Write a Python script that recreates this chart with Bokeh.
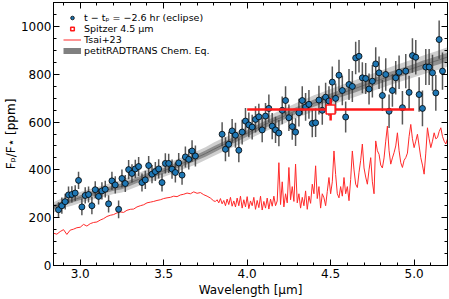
from bokeh.plotting import figure
from bokeh.models import (Range1d, LinearAxis, SingleIntervalTicker, NumeralTickFormatter,
                          CustomJSTickFormatter, Legend, LegendItem, ColumnDataSource)
from bokeh.embed import file_html
from bokeh.resources import INLINE

# ---------------- data ----------------
obs_wl = [2.87, 2.89, 2.91, 2.93, 2.95, 2.97, 2.99, 3.01, 3.03, 3.05, 3.07, 3.09, 3.11, 3.13,
          3.15, 3.17, 3.19, 3.21, 3.23, 3.25, 3.27, 3.29, 3.31, 3.33, 3.35, 3.37, 3.39, 3.41,
          3.43, 3.45, 3.47, 3.49, 3.51, 3.53, 3.55, 3.57, 3.59, 3.61, 3.63, 3.65, 3.67, 3.69,
          3.85, 3.87, 3.89, 3.91, 3.93, 3.95, 3.97, 3.99, 4.01, 4.03, 4.05, 4.07, 4.09, 4.11,
          4.13, 4.15, 4.17, 4.19, 4.21, 4.23, 4.25, 4.27, 4.29, 4.31, 4.33, 4.35, 4.37, 4.39,
          4.41, 4.43,
          4.45, 4.47, 4.49, 4.51, 4.53, 4.55, 4.57, 4.59, 4.61, 4.63, 4.65, 4.67, 4.69, 4.71,
          4.73, 4.75, 4.77, 4.79, 4.81, 4.83, 4.85, 4.87, 4.89, 4.91, 4.93, 4.95, 4.97, 4.99,
          5.01, 5.03, 5.05, 5.07, 5.09, 5.11, 5.13, 5.15, 5.17]
obs_fp = [233, 250, 267, 295, 297, 303, 356, 245, 293, 297, 250, 317, 289, 312,
          319, 258, 354, 337, 235, 364, 343, 401, 385, 404, 414, 347, 358, 418,
          382, 393, 404, 347, 427, 427, 403, 389, 429, 378, 454, 444, 479, 458,
          549, 486, 507, 563, 545, 482, 558, 604, 588, 579, 611, 622, 567, 625,
          657, 583, 567, 554, 649, 690, 618, 581, 558, 639, 690, 663, 674, 594,
          597, 692,
          649, 704, 688, 767, 699, 796, 732, 621, 757, 749, 868, 875, 785, 782,
          738, 771, 843, 806, 711, 799, 645, 732, 785, 808, 660, 813, 724, 878,
          871, 715, 657, 830, 830, 806, 722, 945, 813]
obs_err = [32, 34, 33, 35, 34, 33, 36, 35, 34, 33, 36, 35, 34, 36,
           35, 36, 38, 36, 37, 38, 36, 40, 38, 38, 40, 38, 38, 40,
           38, 40, 40, 38, 42, 40, 40, 42, 42, 40, 44, 42, 45, 44,
           50, 50, 52, 50, 52, 50, 52, 55, 52, 52, 55, 55, 52, 55,
           58, 55, 55, 55, 58, 60, 55, 55, 58, 58, 60, 58, 60, 58,
           60, 60,
           60, 60, 62, 65, 62, 65, 62, 65, 65, 65, 68, 68, 65, 65,
           65, 68, 70, 68, 65, 68, 70, 68, 70, 70, 70, 72, 70, 72,
           72, 72, 75, 75, 75, 75, 75, 80, 78]

spitzer_wl = [4.5]
spitzer_fp = [652]
spitzer_err = [46]
spitzer_halfwidth = [0.5]

model_wl = [2.84, 2.90, 2.95, 3.00, 3.05, 3.10, 3.15, 3.20, 3.25, 3.30, 3.35, 3.40, 3.45, 3.50,
            3.55, 3.60, 3.65, 3.70, 3.75, 3.80, 3.85, 3.90, 3.95, 4.00, 4.05, 4.10, 4.15, 4.20,
            4.25, 4.30, 4.35, 4.40, 4.45, 4.50, 4.55, 4.60, 4.65, 4.70, 4.75, 4.80, 4.85, 4.90,
            4.95, 5.00, 5.05, 5.10, 5.15, 5.20]
model_med = [243, 262, 272, 284, 296, 303, 314, 324, 331, 346, 360, 374, 384, 396,
             410, 424, 438, 452, 468, 486, 503, 518, 535, 553, 571, 588, 603, 618,
             634, 650, 664, 679, 692, 704, 717, 729, 741, 754, 766, 778, 791, 803,
             814, 826, 838, 849, 860, 872]
model_1sig = [10, 10, 10, 10, 11, 11, 11, 11, 12, 12, 12, 12, 12, 12,
              12, 12, 12, 12, 13, 13, 13, 13, 13, 13, 14, 14, 14, 14,
              14, 14, 15, 15, 15, 15, 15, 16, 16, 16, 16, 16, 17, 17,
              17, 17, 18, 18, 18, 18]
model_2sig = [22, 22, 22, 23, 23, 24, 24, 25, 26, 27, 27, 27, 26, 26,
              26, 26, 27, 27, 27, 28, 28, 28, 29, 29, 29, 30, 30, 31,
              31, 32, 32, 33, 33, 34, 34, 35, 35, 36, 36, 37, 37, 38,
              38, 39, 39, 40, 40, 41]

tsai_wl_a = [2.84, 2.86, 2.88, 2.90, 2.92, 2.94, 2.96, 2.98, 3.00, 3.02, 3.04, 3.06, 3.08, 3.10,
             3.12, 3.14, 3.16, 3.18, 3.20, 3.22, 3.24, 3.26, 3.28, 3.30, 3.32, 3.34, 3.36, 3.38,
             3.40, 3.42, 3.44, 3.46, 3.48, 3.50, 3.52, 3.54, 3.56, 3.58, 3.60, 3.62, 3.64, 3.66,
             3.68, 3.70, 3.72, 3.74, 3.76, 3.78, 3.80]
tsai_fp_a = [135, 131, 142, 150, 130, 148, 152, 158, 160, 172, 165, 175, 180, 182,
             190, 196, 205, 210, 213, 220, 224, 222, 231, 235, 236, 245, 250, 254,
             262, 265, 268, 272, 275, 280, 283, 285, 290, 288, 295, 298, 303, 300,
             308, 302, 305, 296, 290, 282, 270]
tsai_wl_b = [3.81, 3.82, 3.83, 3.84, 3.85, 3.86, 3.87, 3.88, 3.89, 3.90, 3.91, 3.92, 3.93,
             3.94, 3.95, 3.96, 3.97, 3.98, 3.99, 4.00, 4.01, 4.02, 4.03, 4.04, 4.05, 4.06,
             4.07, 4.08, 4.09, 4.10, 4.11, 4.12, 4.13, 4.14, 4.15, 4.16, 4.17]
tsai_fp_b = [268, 275, 262, 280, 258, 272, 250, 278, 255, 285, 248, 270, 245,
             282, 250, 290, 240, 275, 245, 288, 238, 270, 250, 285, 235, 272,
             242, 290, 232, 268, 240, 282, 236, 278, 248, 290, 250]
tsai_wl_c = [4.18, 4.19, 4.20, 4.21, 4.22, 4.23, 4.24, 4.25, 4.26, 4.27, 4.28, 4.29, 4.30,
             4.31, 4.32, 4.33, 4.34, 4.35, 4.36, 4.37, 4.38, 4.39, 4.40, 4.41, 4.42, 4.43,
             4.44, 4.45, 4.46, 4.47, 4.48, 4.49, 4.50, 4.51, 4.52, 4.53, 4.54, 4.55, 4.56,
             4.57, 4.58, 4.59, 4.60, 4.61, 4.62, 4.63, 4.64, 4.65, 4.66, 4.67, 4.68, 4.69,
             4.70, 4.71, 4.72, 4.73, 4.74, 4.75, 4.76, 4.77, 4.78, 4.79, 4.80, 4.81, 4.82,
             4.83, 4.84, 4.85, 4.86, 4.87, 4.88, 4.89, 4.90, 4.91, 4.92, 4.93, 4.94, 4.95,
             4.96, 4.97, 4.98, 4.99, 5.00, 5.01, 5.02, 5.03, 5.04, 5.05, 5.06, 5.07, 5.08,
             5.09, 5.10, 5.11, 5.12, 5.13, 5.14, 5.15, 5.16, 5.17, 5.18, 5.19, 5.20]
tsai_fp_c = [270, 430, 255, 350, 245, 300, 262, 410, 275, 330, 268, 424, 262,
             300, 240, 285, 250, 312, 235, 290, 260, 340, 300, 417, 280, 330,
             240, 300, 283, 250, 310, 368, 300, 350, 479, 380, 300, 283, 330,
             290, 368, 300, 330, 271, 360, 479, 400, 340, 326, 390, 440, 508,
             408, 370, 340, 400, 451, 350, 300, 521, 480, 465, 420, 408, 450,
             520, 583, 480, 424, 450, 472, 500, 555, 480, 430, 410, 440, 451,
             470, 540, 590, 530, 493, 520, 549, 500, 451, 420, 382, 470, 576,
             530, 493, 520, 555, 530, 535, 560, 576, 540, 520, 508, 530]

labels = ["t − tₚ = −2.6 hr (eclipse)", "Spitzer 4.5 μm", "Tsai+23", "petitRADTRANS Chem. Eq."]

# ---------------- derived sources ----------------
obs_src = ColumnDataSource(dict(x=obs_wl, y=obs_fp,
                                lo=[v - e for v, e in zip(obs_fp, obs_err)],
                                hi=[v + e for v, e in zip(obs_fp, obs_err)]))
mod_src = ColumnDataSource(dict(x=model_wl, y=model_med,
                                l1=[m - s for m, s in zip(model_med, model_1sig)],
                                h1=[m + s for m, s in zip(model_med, model_1sig)],
                                l2=[m - s for m, s in zip(model_med, model_2sig)],
                                h2=[m + s for m, s in zip(model_med, model_2sig)]))
tsai_src = ColumnDataSource(dict(x=tsai_wl_a + tsai_wl_b + tsai_wl_c,
                                 y=tsai_fp_a + tsai_fp_b + tsai_fp_c))
sp_src = ColumnDataSource(dict(x=spitzer_wl, y=spitzer_fp,
                               x0=[w - h for w, h in zip(spitzer_wl, spitzer_halfwidth)],
                               x1=[w + h for w, h in zip(spitzer_wl, spitzer_halfwidth)],
                               lo=[v - e for v, e in zip(spitzer_fp, spitzer_err)],
                               hi=[v + e for v, e in zip(spitzer_fp, spitzer_err)]))

FONT = "DejaVu Sans"

p = figure(width=449, height=299, output_backend="svg", toolbar_location=None, title=None,
           x_range=Range1d(2.84, 5.2), y_range=Range1d(0, 1100),
           min_border_left=0, min_border_right=2, min_border_top=2, min_border_bottom=0,
           min_border=0,
           x_axis_label="Wavelength [μm]", y_axis_label="Fₚ/F⋆ [ppm]")
p.xgrid.visible = False
p.ygrid.visible = False
p.outline_line_color = "black"
p.outline_line_width = 1
p.background_fill_color = "white"
p.border_fill_color = "white"

xt = SingleIntervalTicker(interval=0.5, num_minor_ticks=5)
yt = SingleIntervalTicker(interval=200, num_minor_ticks=4)
p.xaxis.ticker = xt
p.yaxis.ticker = yt
p.xaxis.formatter = NumeralTickFormatter(format="0.0")
p.yaxis.formatter = NumeralTickFormatter(format="0")


def style(ax):
    ax.major_tick_in = 6
    ax.major_tick_out = 0
    ax.minor_tick_in = 3
    ax.minor_tick_out = 0
    ax.axis_line_color = "black"
    ax.major_tick_line_color = "black"
    ax.minor_tick_line_color = "black"
    ax.major_label_text_font = FONT
    ax.major_label_text_font_size = "12px"
    ax.major_label_text_color = "black"
    ax.axis_label_text_font = FONT
    ax.axis_label_text_font_size = "12px"
    ax.axis_label_text_font_style = "normal"
    ax.axis_label_text_color = "black"


for ax in p.xaxis + p.yaxis:
    style(ax)
p.xaxis.major_label_standoff = 3
p.xaxis.axis_label_standoff = 2
p.yaxis.major_label_standoff = 2
p.yaxis.axis_label_standoff = 0

blank = CustomJSTickFormatter(code="return ''")
top = LinearAxis(ticker=xt, formatter=blank)
right = LinearAxis(ticker=yt, formatter=blank)
for ax in (top, right):
    style(ax)
    ax.major_label_standoff = 0
    ax.axis_label_standoff = 0
p.add_layout(top, "above")
p.add_layout(right, "right")

# model band (a wide grey line sits underneath, only visible as the legend swatch)
prt_proxy = p.line(x="x", y="y", source=mod_src, line_color="#808080", line_width=6)
p.varea(x="x", y1="l2", y2="h2", source=mod_src, fill_color="#cfcfcf", fill_alpha=1)
p.varea(x="x", y1="l1", y2="h1", source=mod_src, fill_color="#8f8f8f", fill_alpha=1)
p.line(x="x", y="y", source=mod_src, line_color="#6a6a6a", line_width=1)

# Tsai+23
tsai_r = p.line(x="x", y="y", source=tsai_src, line_color="#ff2a2a", line_width=1)

# observations
p.segment(x0="x", y0="lo", x1="x", y1="hi", source=obs_src, line_color="#3a3a3a",
          line_width=1.5, line_alpha=0.85)
pts = p.scatter(x="x", y="y", source=obs_src, size=6, marker="circle",
                fill_color="#1f77b4", line_color="black", line_width=0.8)

# Spitzer
p.segment(x0="x0", y0="y", x1="x1", y1="y", source=sp_src, line_color="#ff1a1a", line_width=2.5)
p.segment(x0="x", y0="lo", x1="x", y1="hi", source=sp_src, line_color="#ff1a1a", line_width=2.5)
sq = p.scatter(x="x", y="y", source=sp_src, marker="square", size=9,
               fill_color="white", line_color="#ff1a1a", line_width=1.5)

legend = Legend(items=[LegendItem(label=labels[0], renderers=[pts]),
                       LegendItem(label=labels[1], renderers=[sq]),
                       LegendItem(label=labels[2], renderers=[tsai_r]),
                       LegendItem(label=labels[3], renderers=[prt_proxy])],
                location="top_left")
legend.background_fill_alpha = 0
legend.border_line_color = None
legend.label_text_font = FONT
legend.label_text_font_size = "9.5px"
legend.label_text_color = "black"
legend.label_height = 9
legend.glyph_height = 9
legend.glyph_width = 18
legend.spacing = -1
legend.padding = 3
legend.margin = 10
legend.label_standoff = 3
p.add_layout(legend)

open("out.html", "w").write(file_html(p, INLINE))
